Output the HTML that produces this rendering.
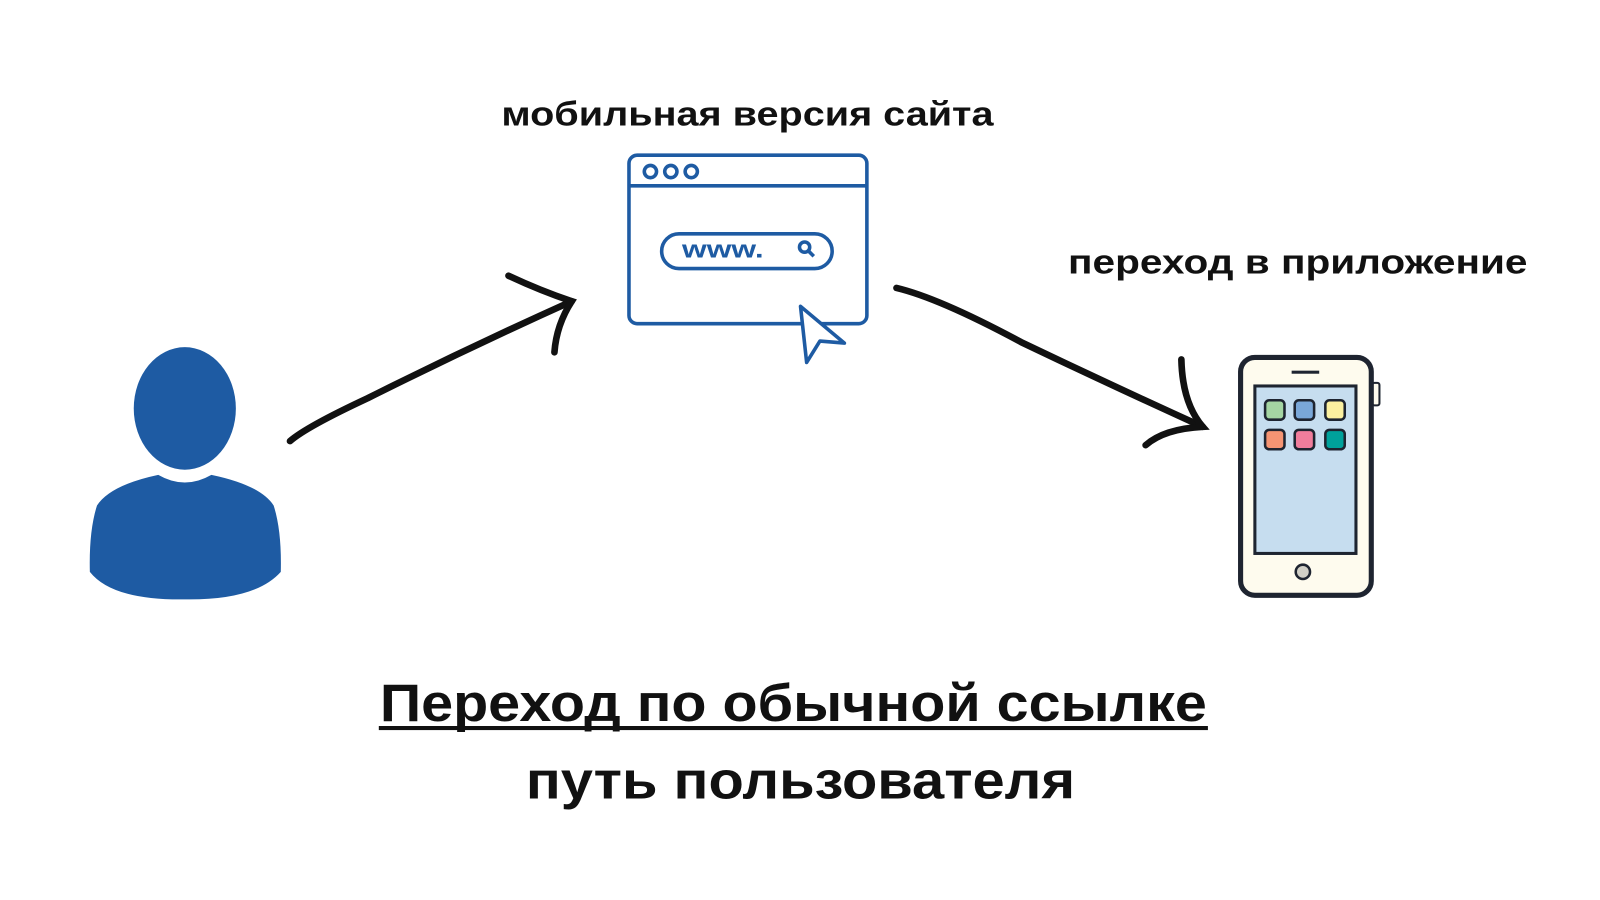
<!DOCTYPE html>
<html><head><meta charset="utf-8"><style>
html,body{margin:0;padding:0;background:#fff;}
svg{display:block;}
text{font-family:"Liberation Sans","DejaVu Sans",sans-serif;font-weight:bold;fill:#111;}
</style></head><body>
<svg width="1600" height="900" viewBox="0 0 1567 881.4" preserveAspectRatio="none">
<rect width="1567" height="881.4" fill="#fff"/>
<text x="491" y="123" font-size="34" textLength="482" lengthAdjust="spacingAndGlyphs">мобильная версия сайта</text>
<text x="1046" y="268" font-size="34" textLength="450" lengthAdjust="spacingAndGlyphs">переход в приложение</text>
<text x="372" y="706" font-size="52" textLength="810" lengthAdjust="spacingAndGlyphs">Переход по обычной ссылке</text>
<rect x="371" y="711" width="812" height="4" fill="#111"/>
<text x="515" y="782" font-size="52" textLength="538" lengthAdjust="spacingAndGlyphs">путь пользователя</text>

<!-- person -->
<g fill="#1e5ba3">
<ellipse cx="181" cy="400" rx="50" ry="60"/>
<path d="M155 465 Q181 480 207 465 Q255 475 268 495 Q276 520 275 560 Q250 588 181 587 Q110 588 88 560 Q87 520 95 495 Q108 475 155 465Z"/>
</g>

<!-- browser -->
<g fill="none" stroke="#1e5ba3" stroke-width="3.5">
<rect x="616" y="152" width="233" height="165" rx="8"/>
<line x1="616" y1="182" x2="849" y2="182"/>
<circle cx="637" cy="168" r="6"/><circle cx="657" cy="168" r="6"/><circle cx="677" cy="168" r="6"/>
<rect x="648" y="229" width="167" height="34" rx="17"/>
<circle cx="788" cy="242" r="5"/><line x1="792" y1="246" x2="797" y2="251"/>
<path d="M784 300 L790 355 L803 334 L827 336Z" fill="#fff" stroke-linejoin="round"/>
</g>
<text x="668" y="252" font-size="24" style="fill:#1e5ba3" textLength="80" lengthAdjust="spacingAndGlyphs">www.</text>

<!-- arrows -->
<g fill="none" stroke="#111" stroke-width="6.5" stroke-linecap="round">
<path d="M284 432 Q300 418 360 390 Q460 340 560 295"/>
<path d="M498 270 Q530 285 560 295 Q545 318 543 345"/>
<path d="M878 282 Q920 292 1000 335 Q1090 378 1178 418"/>
<path d="M1157 352 Q1158 395 1178 418 Q1140 420 1122 436"/>
</g>

<!-- phone -->
<rect x="1344" y="375" width="7" height="22" rx="2" fill="#fefbee" stroke="#1e2430" stroke-width="2"/>
<rect x="1215" y="350" width="128" height="233" rx="14" fill="#fefbee" stroke="#1e2430" stroke-width="5"/>
<rect x="1265" y="363" width="27" height="3" fill="#1e2430"/>
<rect x="1229" y="378" width="99" height="164" fill="#c6ddef"/>
<rect x="1229" y="378" width="99" height="164" fill="none" stroke="#1e2430" stroke-width="3"/>
<g stroke="#1e2430" stroke-width="2.5">
<rect x="1239" y="392" width="19" height="19" rx="4" fill="#a5d5a3"/>
<rect x="1268" y="392" width="19" height="19" rx="4" fill="#7aa7d8"/>
<rect x="1298" y="392" width="19" height="19" rx="4" fill="#fcf0a0"/>
<rect x="1239" y="421" width="19" height="19" rx="4" fill="#f59473"/>
<rect x="1268" y="421" width="19" height="19" rx="4" fill="#f07d9c"/>
<rect x="1298" y="421" width="19" height="19" rx="4" fill="#00a19b"/>
<circle cx="1276" cy="560" r="7" fill="#d1cfc6"/>
</g>
</svg>
</body></html>
